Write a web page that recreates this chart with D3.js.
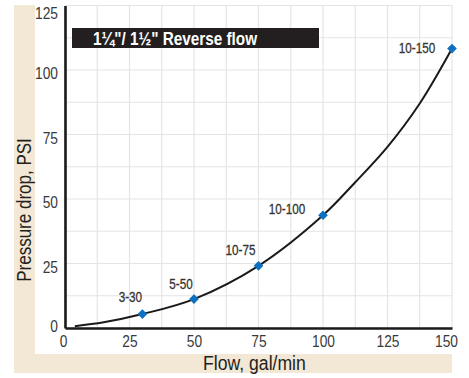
<!DOCTYPE html>
<html>
<head>
<meta charset="utf-8">
<script src="https://cdn.jsdelivr.net/npm/d3@7"></script>
<style>
  html, body { margin: 0; padding: 0; background: #fff; }
  svg { display: block; }
  text { font-family: "Liberation Sans", Arial, sans-serif; }
</style>
</head>
<body>
<svg id="chart" width="469" height="378"></svg>
<script>
// Flow (gal/min) vs. pressure drop (PSI), reverse flow, 1¼" / 1½" valves
const pointLabels = ["3-30", "5-50", "10-75", "10-100", "10-150"];
const pointFlow = [30, 50, 75, 100, 150];
const pointPressure = [5.4, 11.2, 24.1, 43.7, 108.3];

// pressure-drop curve, read along its length
const curveFlow = [3.8, 15, 30, 50, 75, 100, 112.5, 125, 137.5, 150];
const curvePressure = [0.7, 2.2, 5.4, 11.2, 24.1, 43.7, 56.5, 70.2, 87.0, 108.3];

const xTicks = [0, 25, 50, 75, 100, 125, 150];
const yTicks = [0, 25, 50, 75, 100, 125];
const gridStep = 12.5;

const titleText = "1¼\"/ 1½\" Reverse flow";
const xTitle = "Flow, gal/min";
const yTitle = "Pressure drop, PSI";

const svg = d3.select("#chart");
const beige = "#f3e7d5";
const narrow = 0.81; // horizontal squeeze for a condensed look

const x = d3.scaleLinear().domain([0, 150]).range([65, 452]);
const y = d3.scaleLinear().domain([0, 125]).range([328, 5.5]);

// text placed at (px, py) and squeezed horizontally around its anchor
function condensedText(parent, px, py, str, opts) {
  const g = parent.append("g")
    .attr("transform", `translate(${px},${py})${opts.rotate ? ` rotate(${opts.rotate})` : ""} scale(${opts.k || narrow},1)`);
  const t = g.append("text")
    .attr("text-anchor", opts.anchor || "start")
    .attr("font-size", opts.size)
    .attr("font-weight", opts.weight || "normal")
    .attr("fill", opts.fill || "#333")
    .text(str);
  if (opts.stroke) t.attr("stroke", opts.fill || "#333").attr("stroke-width", opts.stroke);
  return t;
}

// beige L-shaped band behind the axis titles
svg.append("rect").attr("x", 14).attr("y", 5).attr("width", 21).attr("height", 368).attr("fill", beige);
svg.append("rect").attr("x", 14).attr("y", 354).attr("width", 438).attr("height", 19).attr("fill", beige);

// grid
const gridVals = d3.range(0, 150 + 0.01, gridStep);
const gridY = d3.range(0, 125 + 0.01, gridStep);
const grid = svg.append("g").attr("stroke", "#e4e4e4").attr("stroke-width", 1.2);
grid.selectAll("line.v").data(gridVals).join("line")
  .attr("x1", d => x(d)).attr("x2", d => x(d))
  .attr("y1", y(125)).attr("y2", y(0));
grid.selectAll("line.h").data(gridY).join("line")
  .attr("x1", x(0)).attr("x2", x(150))
  .attr("y1", d => y(d)).attr("y2", d => y(d));

// axes (lines from d3.axis, labels squeezed for a condensed face)
const xAxis = d3.axisBottom(x).tickValues(xTicks).tickSize(0).tickPadding(8);
const yAxis = d3.axisLeft(y).tickValues(yTicks).tickSize(0).tickPadding(7);

const gx = svg.append("g").attr("transform", `translate(0,${y(0)})`).call(xAxis);
const gy = svg.append("g").attr("transform", `translate(${x(0)},0)`).call(yAxis);
[gx, gy].forEach(g => {
  g.select(".domain").attr("stroke", "#1a1a1a").attr("stroke-width", 2.6);
  g.selectAll("text").attr("font-size", 17).attr("fill", "#3a3a3a")
    .style("font-family", "'Liberation Sans', Arial, sans-serif");
});
gx.selectAll(".tick text")
  .attr("transform", `scale(${narrow},1)`)
  .attr("x", d => (d === 150 ? -6 : d === 0 ? -2 : 0) / narrow)
  .attr("y", 7).attr("dy", "0.71em");
gy.selectAll(".tick text")
  .attr("transform", `scale(${narrow},1)`)
  .attr("x", -7 / narrow)
  .attr("dy", d => d === 125 ? "0.78em" : d === 0 ? "0.2em" : "0.52em");

// title box
svg.append("rect").attr("x", 72).attr("y", 28).attr("width", 247).attr("height", 20).attr("fill", "#231f20");
condensedText(svg, 93, 45, titleText, { size: 18, weight: "bold", fill: "#fff", k: 0.85 });

// curve
const line = d3.line().x(d => x(d[0])).y(d => y(d[1])).curve(d3.curveCatmullRom.alpha(0.5));
svg.append("path").datum(d3.zip(curveFlow, curvePressure))
  .attr("d", line).attr("fill", "none").attr("stroke", "#1a1a1a").attr("stroke-width", 2);

// markers
const pts = pointFlow.map((f, i) => ({ f, p: pointPressure[i], label: pointLabels[i] }));
svg.append("g").selectAll("path").data(pts).join("path")
  .attr("d", d3.symbol(d3.symbolDiamond2, 60)())
  .attr("transform", d => `translate(${x(d.f)},${y(d.p)})`)
  .attr("fill", "#0d6fc0");

// point labels
const labelOffset = [[-12, -12], [-13, -10], [-18, -11], [-36, -1], [-35, 4]];
const labels = svg.append("g");
pts.forEach((d, i) => {
  condensedText(labels, x(d.f) + labelOffset[i][0], y(d.p) + labelOffset[i][1], d.label,
    { size: 15, anchor: "middle", fill: "#333", k: 0.78, stroke: 0.3 });
});

// axis titles
condensedText(svg, 203, 370, xTitle, { size: 21, fill: "#231f20", k: 0.84 });
condensedText(svg, 31, 210, yTitle, { size: 21, fill: "#231f20", anchor: "middle", rotate: -90, k: 0.81 });
</script>
</body>
</html>
